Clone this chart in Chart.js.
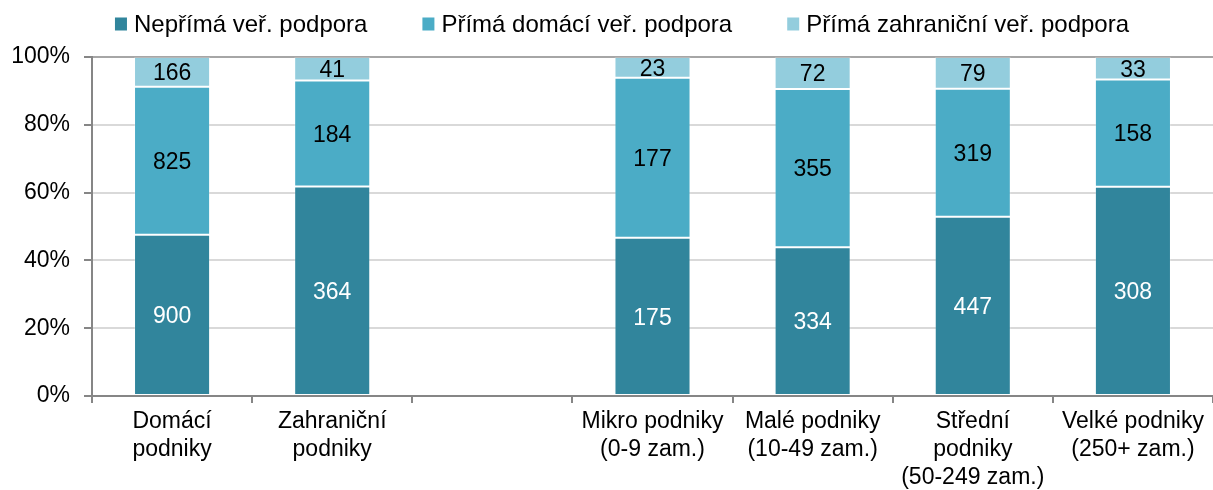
<!DOCTYPE html>
<html>
<head>
<meta charset="utf-8">
<script src="https://cdn.jsdelivr.net/npm/chart.js@4.4.1/dist/chart.umd.min.js"></script>
<style>
  html, body { margin: 0; padding: 0; background: #fff; }
  #wrap { width: 1213px; height: 490px; }
</style>
</head>
<body>
<div id="wrap"><canvas id="c" width="1213" height="490"></canvas></div>
<script>
// kategorie (prázdná mezera mezi skupinami)
const categories = [
  ["Domácí", "podniky"],
  ["Zahraniční", "podniky"],
  "",
  ["Mikro podniky", "(0-9 zam.)"],
  ["Malé podniky", "(10-49 zam.)"],
  ["Střední", "podniky", "(50-249 zam.)"],
  ["Velké podniky", "(250+ zam.)"]
];
const seriesNames = ["Nepřímá veř. podpora", "Přímá domácí veř. podpora", "Přímá zahraniční veř. podpora"];
const neprima = [900, 364, null, 175, 334, 447, 308];
const primaDomaci = [825, 184, null, 177, 355, 319, 158];
const primaZahranicni = [166, 41, null, 23, 72, 79, 33];
const yTicks = [0, 20, 40, 60, 80, 100];

const colors = ["#31859C", "#4BACC6", "#93CDDD"];
const labelColors = ["#ffffff", "#000000", "#000000"];
const FONT = "'Liberation Sans', Arial, sans-serif";

// podíly pro 100% skládaný graf
const raw = [neprima, primaDomaci, primaZahranicni];
const totals = categories.map((_, i) => raw.reduce((s, a) => s + (a[i] || 0), 0));
const shares = raw.map(a => a.map((v, i) => v == null ? null : v / totals[i] * 100));

// popisky hodnot uprostřed segmentů
const valueLabels = {
  id: "valueLabels",
  afterDatasetsDraw(chart) {
    const ctx = chart.ctx;
    ctx.save();
    ctx.font = "23px " + FONT;
    ctx.textAlign = "center";
    ctx.textBaseline = "middle";
    chart.data.datasets.forEach((ds, di) => {
      const meta = chart.getDatasetMeta(di);
      meta.data.forEach((bar, i) => {
        const v = raw[di][i];
        if (v == null) return;
        ctx.fillStyle = labelColors[di];
        ctx.fillText(String(v), bar.x, (bar.y + bar.base) / 2 + 2);
      });
    });
    ctx.restore();
  }
};

// legenda nahoře (vlastní kreslení kvůli rozestupům)
const topLegend = {
  id: "topLegend",
  afterDraw(chart) {
    const ctx = chart.ctx;
    ctx.save();
    ctx.font = "24px " + FONT;
    ctx.textBaseline = "middle";
    const box = 12, gapText = 7, gapItem = 55, cy = 24;
    const widths = seriesNames.map(n => box + gapText + ctx.measureText(n).width);
    const total = widths.reduce((s, w) => s + w, 0) + gapItem * (widths.length - 1);
    let x = 622 - total / 2;
    seriesNames.forEach((n, k) => {
      ctx.fillStyle = colors[k];
      ctx.fillRect(x, cy - 6.5, box, 13);
      ctx.fillStyle = "#000";
      ctx.fillText(n, x + box + gapText, cy + 1);
      x += widths[k] + gapItem;
    });
    ctx.restore();
  }
};

new Chart(document.getElementById("c"), {
  type: "bar",
  data: {
    labels: categories,
    datasets: seriesNames.map((name, k) => ({
      label: name,
      data: shares[k],
      backgroundColor: colors[k],
      borderColor: "rgba(255,255,255,0.2)",
      borderWidth: 1,
      borderSkipped: false,
      barPercentage: 0.475,
      categoryPercentage: 1
    }))
  },
  options: {
    responsive: false,
    animation: false,
    layout: { padding: { top: 57, right: 0, left: 0, bottom: 0 } },
    plugins: {
      tooltip: { enabled: false },
      legend: { display: false }
    },
    scales: {
      x: {
        stacked: true,
        grid: {
          offset: true,
          drawOnChartArea: false,
          tickLength: 7,
          tickColor: "#868686",
          lineWidth: 2
        },
        border: { color: "#868686", width: 2 },
        ticks: {
          font: { family: FONT, size: 23, lineHeight: 1.22 },
          color: "#000",
          maxRotation: 0,
          autoSkip: false,
          padding: 5
        },
        afterFit(s) { s.height = 94; }
      },
      y: {
        stacked: true,
        min: 0,
        max: 100,
        afterBuildTicks(s) { s.ticks = yTicks.map(v => ({ value: v })); },
        grid: {
          color: ctx => ctx.tick && ctx.tick.value === 100 ? "#A6A6A6" : "#D9D9D9",
          lineWidth: 2,
          tickLength: 8,
          tickColor: "#868686"
        },
        border: { color: "#868686", width: 2 },
        ticks: {
          font: { family: FONT, size: 23 },
          color: "#000",
          padding: 14,
          callback: v => v + "%"
        },
        afterFit(s) { s.width = 92; }
      }
    }
  },
  plugins: [valueLabels, topLegend]
});
</script>
</body>
</html>
